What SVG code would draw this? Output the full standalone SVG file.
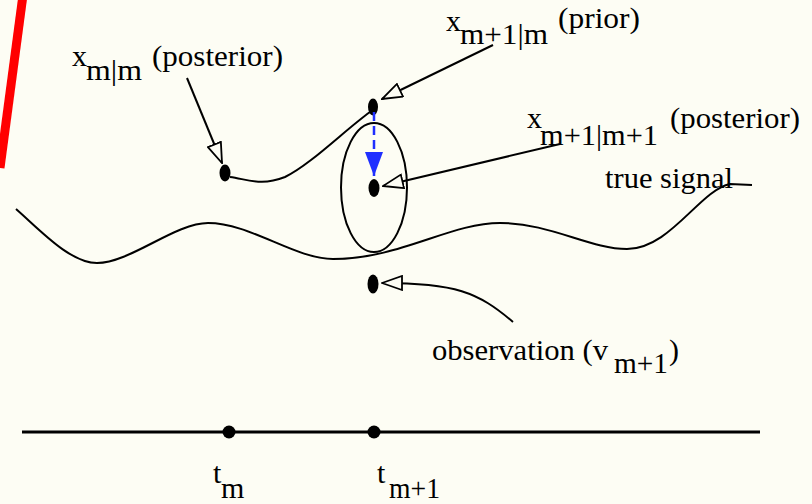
<svg xmlns="http://www.w3.org/2000/svg" width="812" height="504" viewBox="0 0 812 504">
<defs>
<style>
.bg{fill:#fdfdf4}
.crv{fill:none;stroke:#000;stroke-width:2}
.dot{fill:#000}
.lbl{font-family:'Liberation Serif','DejaVu Serif','Times New Roman',serif;font-size:30px;fill:#000}
.arr{fill:none;stroke:#000;stroke-width:2;marker-end:url(#open)}
</style>
<marker id="open" viewBox="0 0 22 16" refX="21" refY="8" markerWidth="22" markerHeight="16" markerUnits="userSpaceOnUse" orient="auto">
<path d="M1,1 L21,8 L1,15 Z" fill="#fdfdf4" stroke="#000" stroke-width="1.8" stroke-linejoin="miter"/>
</marker>
<marker id="blue" viewBox="0 0 24 18" refX="24" refY="9" markerWidth="24" markerHeight="18" markerUnits="userSpaceOnUse" orient="auto">
<path d="M0,0 L24,9 L0,18 Z" fill="#1f2fff"/>
</marker>
</defs>
<rect class="bg" x="0" y="0" width="812" height="504"/>
<line x1="23" y1="-5" x2="0" y2="168" stroke="#ff0000" stroke-width="9"/>

<g id="true-signal">
<path class="crv" d="M16,209 C40,230 70,263 97,263 C130,263 175,223 208,223 C250,223 295,259 333,259 C400,259 450,223 500,223 C550,223 590,249 627,249 C670,249 700,190 730,184 L752,185"/>
<text class="lbl" x="605" y="188" textLength="128" lengthAdjust="spacingAndGlyphs">true signal</text>
</g>

<g id="estimate-track">
<path class="crv" d="M230,177 C250,180 262,186 285,177 C310,165 345,130 370,112"/>
</g>

<g id="covariance-ellipse">
<ellipse cx="374" cy="187.5" rx="33" ry="64.5" fill="none" stroke="#000" stroke-width="2"/>
</g>

<g id="x-m-m">
<ellipse class="dot" cx="225" cy="173" rx="5.5" ry="8.5"/>
<text class="lbl" x="72" y="66">x</text>
<text class="lbl" x="86" y="80" textLength="56" lengthAdjust="spacingAndGlyphs">m|m</text>
<text class="lbl" x="152" y="66" textLength="131" lengthAdjust="spacingAndGlyphs">(posterior)</text>
</g>

<g id="x-m1-m">
<ellipse class="dot" cx="373" cy="107" rx="5" ry="8.5"/>
<text class="lbl" x="446" y="31">x</text>
<text class="lbl" x="460" y="44" textLength="88" lengthAdjust="spacingAndGlyphs">m+1|m</text>
<text class="lbl" x="558" y="28" textLength="82" lengthAdjust="spacingAndGlyphs">(prior)</text>
</g>

<g id="x-m1-m1">
<ellipse class="dot" cx="374" cy="188" rx="5.5" ry="9"/>
<text class="lbl" x="527" y="128">x</text>
<text class="lbl" x="540" y="145" textLength="118" lengthAdjust="spacingAndGlyphs">m+1|m+1</text>
<text class="lbl" x="670" y="128" textLength="130" lengthAdjust="spacingAndGlyphs">(posterior)</text>
</g>

<g id="observation">
<ellipse class="dot" cx="373" cy="284" rx="5.5" ry="9.5"/>
<text class="lbl" x="432" y="360" textLength="176" lengthAdjust="spacingAndGlyphs">observation (v</text>
<text class="lbl" x="614" y="373" textLength="54" lengthAdjust="spacingAndGlyphs">m+1</text>
<text class="lbl" x="669" y="360">)</text>
</g>

<g id="time-axis">
<line x1="22" y1="432" x2="760" y2="432" stroke="#000" stroke-width="3"/>
</g>
<g id="t-m">
<circle class="dot" cx="229" cy="432" r="6.5"/>
<text class="lbl" x="213" y="483">t</text>
<text class="lbl" x="221" y="498">m</text>
</g>
<g id="t-m1">
<circle class="dot" cx="374" cy="432" r="6.5"/>
<text class="lbl" x="377" y="483">t</text>
<text class="lbl" x="389" y="498" textLength="51" lengthAdjust="spacingAndGlyphs">m+1</text>
</g>

<g id="connectors">
<line class="arr" x1="187" y1="78" x2="222" y2="163"/>
<line class="arr" x1="493" y1="45" x2="382" y2="99"/>
<line class="arr" x1="560" y1="144" x2="383" y2="186"/>
<path class="arr" d="M513,322 C478,292 455,283 382,283"/>
<line x1="374" y1="112" x2="374" y2="176" stroke="#1f2fff" stroke-width="2.5" stroke-dasharray="9 5" marker-end="url(#blue)"/>
</g>
</svg>
